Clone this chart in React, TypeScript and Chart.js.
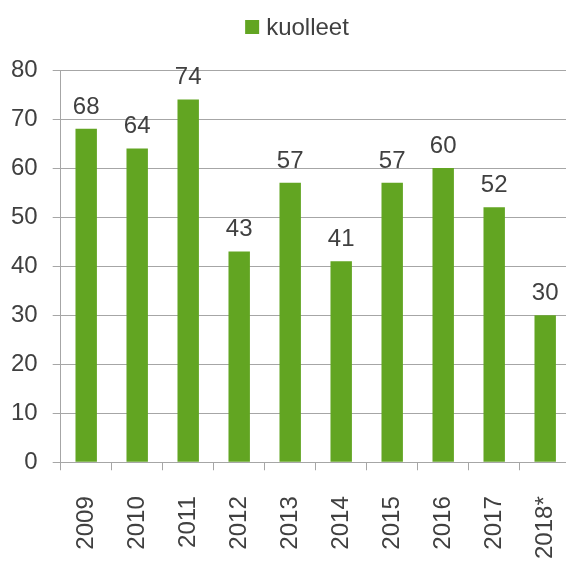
import React, { useEffect, useRef } from "react";
import { Chart, registerables } from "chart.js";

Chart.register(...registerables);

const years = ["2009", "2010", "2011", "2012", "2013", "2014", "2015", "2016", "2017", "2018*"];
const deaths = [68, 64, 74, 43, 57, 41, 57, 60, 52, 30];
const seriesName = "kuolleet";
const yMin = 0;
const yMax = 80;
const yStep = 10;

const GREEN = "#62a522";
const TEXT = "#404040";
const GRID = "#a6a6a6";
const FONT = "'Liberation Sans', Arial, sans-serif";

const valueLabels = {
  id: "valueLabels",
  afterDatasetsDraw(chart: any) {
    const ctx = chart.ctx;
    ctx.save();
    ctx.font = `24px ${FONT}`;
    ctx.fillStyle = TEXT;
    ctx.textAlign = "center";
    ctx.textBaseline = "alphabetic";
    chart.getDatasetMeta(0).data.forEach((bar: any, i: number) => {
      ctx.fillText(String(chart.data.datasets[0].data[i]), bar.x, bar.y - 15);
    });
    ctx.restore();
  },
};

const customLegend = {
  id: "customLegend",
  afterDraw(chart: any) {
    const ctx = chart.ctx;
    const label = chart.data.datasets[0].label;
    ctx.save();
    ctx.font = `24px ${FONT}`;
    const tw = ctx.measureText(label).width;
    const box = 14;
    const gap = 7;
    const total = box + gap + tw;
    const cx = 301;
    const x0 = cx - total / 2;
    const cy = 27;
    ctx.fillStyle = chart.data.datasets[0].backgroundColor;
    ctx.fillRect(x0, cy - box / 2, box, box);
    ctx.fillStyle = TEXT;
    ctx.textAlign = "left";
    ctx.textBaseline = "alphabetic";
    ctx.fillText(label, x0 + box + gap, 35);
    ctx.restore();
  },
};

export default function App() {
  const ref = useRef<HTMLCanvasElement>(null);
  useEffect(() => {
    if (!ref.current) return;
    const chart = new Chart(ref.current, {
      type: "bar",
      data: {
        labels: years,
        datasets: [
          {
            label: seriesName,
            data: deaths,
            backgroundColor: GREEN,
            borderWidth: 0,
            categoryPercentage: 0.84,
            barPercentage: 0.5,
          },
        ],
      },
      options: {
        responsive: false,
        animation: false,
        devicePixelRatio: 1,
        layout: { padding: { top: 70, left: 0, right: 0, bottom: 0 } },
        plugins: {
          legend: { display: false },
          tooltip: { enabled: false },
          title: { display: false },
        },
        scales: {
          x: {
            offset: true,
            grid: {
              display: true,
              drawOnChartArea: false,
              drawTicks: true,
              tickLength: 8,
              offset: true,
              color: GRID,
              lineWidth: 1,
            },
            border: { display: true, color: GRID, width: 1 },
            ticks: {
              color: TEXT,
              font: { size: 24, family: FONT },
              minRotation: 90,
              maxRotation: 90,
              padding: 26,
              autoSkip: false,
            },
          },
          y: {
            min: yMin,
            max: yMax,
            grid: {
              color: GRID,
              lineWidth: 1,
              drawTicks: true,
              tickLength: 8,
            },
            border: { display: true, color: GRID, width: 1 },
            ticks: {
              stepSize: yStep,
              color: TEXT,
              font: { size: 24, family: FONT },
              padding: 15,
            },
          },
        },
      },
      plugins: [valueLabels, customLegend],
    });
    return () => chart.destroy();
  }, []);

  return (
    <div
      style={{
        position: "fixed",
        left: 0,
        top: 0,
        width: 566,
        height: 563,
        overflow: "hidden",
        background: "#ffffff",
      }}
    >
      <canvas
        ref={ref}
        width={604}
        height={585}
        style={{ display: "block", marginLeft: -4 }}
      />
    </div>
  );
}
